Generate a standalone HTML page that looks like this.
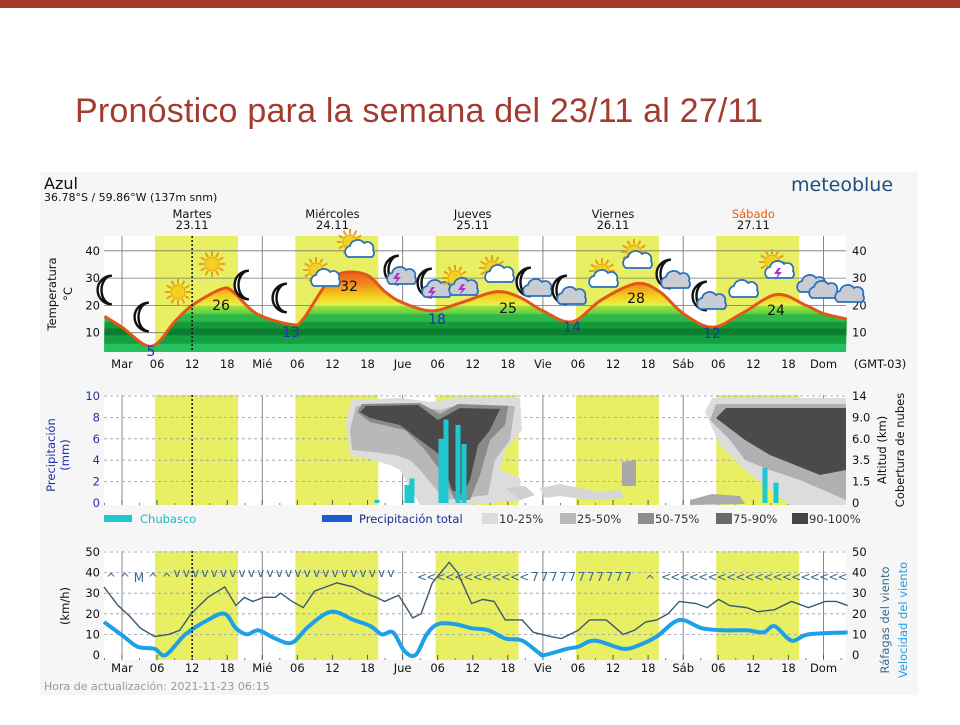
<!DOCTYPE html>
<html><head><meta charset="utf-8"><style>
body{margin:0;width:960px;height:720px;background:#fff;overflow:hidden;font-family:"Liberation Sans","DejaVu Sans",sans-serif}
</style></head><body>
<svg id="s" width="960" height="720" xmlns="http://www.w3.org/2000/svg" font-family="'DejaVu Sans','Liberation Sans',sans-serif">
<rect x="0" y="0" width="960" height="8" fill="#a53a2c"/>
<text x="75" y="122" font-family="'Liberation Sans',sans-serif" font-size="34" textLength="688" fill="#a33c2e">Pronóstico para la semana del 23/11 al 27/11</text>
<rect x="40" y="172" width="878" height="523" fill="#f6f6f6"/>
<text x="44" y="189" font-size="16" fill="#111">Azul</text>
<text x="44" y="201" font-size="11" fill="#111">36.78°S / 59.86°W (137m snm)</text>
<text x="791" y="191" font-size="19" fill="#1d4d7d">meteoblue</text>
<g id="g"></g>
</svg>
<script>
const NS="http://www.w3.org/2000/svg",G=document.getElementById('g');
function el(t,a,txt){const e=document.createElementNS(NS,t);for(const k in a)e.setAttribute(k,a[k]);if(txt!=null)e.textContent=txt;G.appendChild(e);return e;}
const X0=122,DAY=140.3,L=104,R=846;
const hx=h=>X0+h*DAY/24;
function smooth(pts){let d="M"+pts[0][0]+","+pts[0][1];for(let i=0;i<pts.length-1;i++){const p0=pts[Math.max(0,i-1)],p1=pts[i],p2=pts[i+1],p3=pts[Math.min(pts.length-1,i+2)];d+=` C${p1[0]+(p2[0]-p0[0])/6},${p1[1]+(p2[1]-p0[1])/6} ${p2[0]-(p3[0]-p1[0])/6},${p2[1]-(p3[1]-p1[1])/6} ${p2[0]},${p2[1]}`;}return d;}
const xl=["Mar","06","12","18","Mié","06","12","18","Jue","06","12","18","Vie","06","12","18","Sáb","06","12","18","Dom"];
function panel(top,bot){
 el('rect',{x:L,y:top,width:R-L,height:bot-top,fill:'#fff'});
 for(let d=0;d<5;d++){el('rect',{x:hx(d*24)+33,y:top,width:83,height:bot-top,fill:'#e8ef62'});}
 for(let i=0;i<=20;i++){const x=hx(i*6);if(i%4==0)el('line',{x1:x,y1:top,x2:x,y2:bot,stroke:'#888','stroke-width':1});
  el('line',{x1:x,y1:bot,x2:x,y2:bot-5,stroke:'#555'});}
 for(let h=-3;h<=124;h+=3){el('line',{x1:hx(h),y1:bot,x2:hx(h),y2:bot-2,stroke:'#777'});}
}
function xlabels(y){xl.forEach((t,i)=>el('text',{x:hx(i*6),y:y,'font-size':11.5,'text-anchor':'middle',fill:'#111'},t));}
// ---------- panel 1
const T1=236,B1=352,ty=t=>360-t*2.73;
panel(T1,B1);
[10,20,30,40].forEach(t=>{el('line',{x1:L,y1:ty(t),x2:R,y2:ty(t),stroke:'#777','stroke-width':0.8});
 el('text',{x:100,y:ty(t)+4,'font-size':11.5,'text-anchor':'end',fill:'#111'},t);
 el('text',{x:852,y:ty(t)+4,'font-size':11.5,fill:'#111'},t);});
const tp=[[-3,16],[0,12],[5,5],[9,14],[12,20],[17,26],[19,25],[23,17],[29,13],[31,15],[35,28],[38,32],[42,31],[45,25],[48,21],[53,18],[58,21],[64,25],[68,23],[72,18],[77,14],[82,22],[88,28],[92,25],[96,17],[101,12],[106,17],[112,24],[117,20],[120,17],[124,15]].map(p=>[hx(p[0]),ty(p[1])]);
const cd=smooth(tp);
const defs=el('defs',{});
defs.innerHTML=`<linearGradient id="tg" x1="0" y1="${ty(34)}" x2="0" y2="${ty(3)}" gradientUnits="userSpaceOnUse">
<stop offset="0" stop-color="#e8501a"/><stop offset="0.2" stop-color="#f08a1a"/><stop offset="0.35" stop-color="#f4d21e"/><stop offset="0.45" stop-color="#e8f04a"/>
<stop offset="0.46" stop-color="#9fe040"/><stop offset="0.55" stop-color="#5cd040"/><stop offset="0.56" stop-color="#2fb84a"/><stop offset="0.64" stop-color="#2fb84a"/>
<stop offset="0.65" stop-color="#139a3a"/><stop offset="0.72" stop-color="#139a3a"/><stop offset="0.73" stop-color="#0a7d30"/><stop offset="0.8" stop-color="#0a7d30"/>
<stop offset="0.81" stop-color="#15a040"/><stop offset="0.9" stop-color="#15a040"/><stop offset="0.91" stop-color="#25c060"/><stop offset="1" stop-color="#25c060"/></linearGradient>`;
el('path',{d:cd+` L${R},${B1} L${L},${B1} Z`,fill:'url(#tg)'});
el('path',{d:cd,fill:'none',stroke:'#e2561a','stroke-width':3});
el('line',{x1:hx(12),y1:T1,x2:hx(12),y2:B1,stroke:'#111','stroke-dasharray':'2,2','stroke-width':1.5});
[[221,310,26,'#111'],[349,291,32,'#111'],[508,313,25,'#111'],[636,303,28,'#111'],[776,315,24,'#111'],[151,356,5,'#1a3aa8'],[291,337,13,'#1a3aa8'],[437,324,18,'#1a3aa8'],[572,332,14,'#1a3aa8'],[712,338,12,'#1a3aa8']].forEach(a=>el('text',{x:a[0],y:a[1],'font-size':14,'text-anchor':'middle',fill:a[3]},a[2]));
xlabels(368);
el('text',{x:880,y:368,'font-size':11.5,'text-anchor':'middle',fill:'#111'},'(GMT-03)');
el('text',{x:0,y:0,'font-size':11.5,'text-anchor':'middle',fill:'#111',transform:'translate(56,294) rotate(-90)'},'Temperatura');
el('text',{x:0,y:0,'font-size':11.5,'text-anchor':'middle',fill:'#111',transform:'translate(72,294) rotate(-90)'},'°C');
[['Martes','23.11',0,'#111'],['Miércoles','24.11',1,'#111'],['Jueves','25.11',2,'#111'],['Viernes','26.11',3,'#111'],['Sábado','27.11',4,'#e0600f']].forEach(a=>{const x=hx(a[2]*24+12);
 el('text',{x:x,y:218,'font-size':11.5,'text-anchor':'middle',fill:a[3]},a[0]);el('text',{x:x,y:229,'font-size':11.5,'text-anchor':'middle',fill:'#111'},a[1]);});
// icons
function moon(x,y){const s=1.3;el('path',{d:`M${x+3*s},${y-11*s} A${11*s} ${11*s} 0 1 0 ${x+3*s},${y+11*s} A${8*s} ${11*s} 0 1 1 ${x+3*s},${y-11*s} Z`,fill:'#fff',stroke:'#111','stroke-width':2.4});}
function sun(x,y){for(let i=0;i<12;i++){const a=i*Math.PI/6;el('line',{x1:x+8*Math.cos(a),y1:y+8*Math.sin(a),x2:x+13*Math.cos(a),y2:y+13*Math.sin(a),stroke:'#e8a010','stroke-width':2});}el('circle',{cx:x,cy:y,r:7,fill:'#f6d020',stroke:'#e8a010','stroke-width':1});}
function cloud(x,y,g){const f=g?'#c8ccd4':'#fff';el('path',{d:`M${x-12},${y+6} a6 6 0 0 1 2,-11 a8 8 0 0 1 14,-3 a6 6 0 0 1 9,7 a5 5 0 0 1 -1,7 Z`,fill:f,stroke:'#2a70c0','stroke-width':1.8});}
function bolt(x,y){el('path',{d:`M${x},${y} l-4,6 h4 l-3,6 l7,-8 h-4 l3,-4 z`,fill:'#b030d0'});}
moon(108,290);moon(145,317);sun(178,292);sun(212,264);moon(245,285);moon(283,298);
sun(316,270);cloud(326,280);sun(350,242);cloud(360,251);
moon(395,270);cloud(402,278,1);bolt(397,273);moon(428,283);cloud(437,291,1);bolt(432,287);
sun(455,278);cloud(464,289,1);bolt(462,284);sun(492,268);cloud(500,276);
moon(527,282);cloud(538,290,1);moon(563,290);cloud(572,298,1);sun(602,271);cloud(604,281);sun(634,252);cloud(638,262);
moon(667,274);cloud(676,282,1);moon(703,296);cloud(712,303,1);cloud(744,291);sun(772,262);cloud(780,272);bolt(778,268);
cloud(812,286,1);cloud(824,292,1);cloud(850,296,1);
// ---------- panel 2
const T2=395,B2=505,py=v=>503-v*10.7;
panel(T2,B2);
const rl=['0','1.5','3.5','6.0','9.0','14'];
[0,2,4,6,8,10].forEach((v,i)=>{if(v>0)el('line',{x1:L,y1:py(v),x2:R,y2:py(v),stroke:'#99a','stroke-dasharray':'3,3','stroke-width':0.8});
 el('text',{x:100,y:py(v)+4,'font-size':11.5,'text-anchor':'end',fill:'#2030a8'},v);
 el('text',{x:852,y:py(v)+4,'font-size':11.5,fill:'#111'},rl[i]);});
el('path',{d:'M346,420 L352,400 L400,398 L432,402 L455,398 L520,398 L522,430 L505,450 L500,470 L520,478 L522,500 L470,505 L420,505 L400,470 L390,465 L372,460 L350,455 Z',fill:'#dcdcdc'});
el('path',{d:'M350,430 L356,406 L400,404 L440,410 L462,404 L515,406 L510,440 L495,460 L488,495 L445,500 L420,470 L410,460 L395,455 L372,452 L352,450 Z',fill:'#b8b8b8'});
el('path',{d:'M357,412 L362,404 L420,403 L440,414 L458,404 L508,406 L505,425 L490,440 L480,475 L470,500 L455,500 L440,470 L425,450 L405,430 L370,422 Z',fill:'#8a8a8a'});
el('path',{d:'M360,412 L366,406 L418,405 L438,420 L460,408 L500,409 L490,430 L478,445 L470,480 L462,495 L452,490 L440,455 L420,440 L400,425 L370,418 Z',fill:'#4a4a4a'});
el('path',{d:'M705,412 L712,398 L846,398 L846,505 L790,505 L770,490 L745,470 L720,445 Z',fill:'#dcdcdc'});
el('path',{d:'M710,420 L716,404 L846,404 L846,500 L800,480 L770,470 L745,460 L730,440 Z',fill:'#b0b0b0'});
el('path',{d:'M716,418 L726,408 L846,408 L846,470 L820,475 L795,465 L770,455 L745,440 Z',fill:'#4a4a4a'});
el('path',{d:'M690,500 L712,494 L740,496 L745,504 L690,505 Z',fill:'#aaa'});
el('path',{d:'M622,462 L636,460 L636,486 L622,486 Z',fill:'#a8a8a8'});
el('path',{d:'M540,488 L560,484 L600,492 L620,490 L625,498 L590,500 L560,496 L545,498 Z',fill:'#d6d6d6'});
el('path',{d:'M505,488 L525,486 L535,495 L520,500 Z',fill:'#cfcfcf'});
[[377,0.3],[407,1.7],[412,2.3],[441,6],[446,7.8],[458,7.3],[464,5.5],[765,3.3],[776,1.9]].forEach(b=>el('rect',{x:b[0]-2.5,y:py(b[1]),width:5,height:b[1]*10.7,fill:'#1fc8d0'}));
el('line',{x1:hx(12),y1:T2,x2:hx(12),y2:B2,stroke:'#111','stroke-dasharray':'2,2','stroke-width':1.5});
el('text',{x:0,y:0,'font-size':11.5,'text-anchor':'middle',fill:'#2030a8',transform:'translate(55,455) rotate(-90)'},'Precipitación');
el('text',{x:0,y:0,'font-size':11.5,'text-anchor':'middle',fill:'#2030a8',transform:'translate(69,455) rotate(-90)'},'(mm)');
el('text',{x:0,y:0,'font-size':11.5,'text-anchor':'middle',fill:'#111',transform:'translate(886,450) rotate(-90)'},'Altitud (km)');
el('text',{x:0,y:0,'font-size':11.5,'text-anchor':'middle',fill:'#111',transform:'translate(904,450) rotate(-90)'},'Cobertura de nubes');
el('rect',{x:104,y:515,width:28,height:7,fill:'#1fc8d0'});el('text',{x:140,y:523,'font-size':11.5,fill:'#1fb8c8'},'Chubasco');
el('rect',{x:322,y:515,width:30,height:7,fill:'#1f5ad0'});el('text',{x:359,y:523,'font-size':11.5,fill:'#1a2a90'},'Precipitación total');
[['#dcdcdc','10-25%',482],['#b8b8b8','25-50%',560],['#8e8e8e','50-75%',638],['#6a6a6a','75-90%',716],['#444','90-100%',792]].forEach(a=>{el('rect',{x:a[2],y:513,width:16,height:11,fill:a[0]});el('text',{x:a[2]+17,y:523,'font-size':11.5,fill:'#333'},a[1]);});
// ---------- panel 3
const T3=551,B3=660,wy=v=>655-v*2.06;
panel(T3,B3);
[0,10,20,30,40,50].forEach(v=>{if(v>0)el('line',{x1:L,y1:wy(v),x2:R,y2:wy(v),stroke:'#99a','stroke-dasharray':'3,3','stroke-width':0.8});
 el('text',{x:100,y:wy(v)+4,'font-size':11.5,'text-anchor':'end',fill:'#111'},v);
 el('text',{x:852,y:wy(v)+4,'font-size':11.5,fill:'#111'},v);});
const zx=z=>122+(z-147)*0.5612;
const gust=[[115,33],[140,24],[160,19],[180,13],[205,9],[230,10],[250,12],[270,20],[300,28],[330,33],[350,24],[365,28],[380,26],[400,28],[420,28],[430,30],[450,26],[470,23],[490,31],[510,33],[530,35],[560,33],[580,30],[600,28],[615,26],[640,29],[665,18],[680,20],[700,35],[730,45],[745,40],[770,25],[790,27],[810,26],[830,17],[860,17],[880,11],[910,9],[930,8],[960,12],[980,17],[1010,17],[1040,10],[1060,12],[1080,16],[1100,17],[1120,20],[1140,26],[1170,25],[1190,23],[1210,27],[1230,24],[1260,23],[1280,21],[1310,22],[1340,26],[1370,23],[1400,26],[1420,26],[1440,24]];
const spd=[[115,16],[150,9],[175,4],[205,3],[225,0],[260,10],[300,17],[330,20],[350,13],[370,10],[390,12],[420,8],[450,6],[480,14],[520,21],[560,17],[590,14],[610,10],[630,11],[650,2],[670,0],[690,10],[710,15],[740,15],[770,13],[800,12],[830,8],[860,7],[890,1],[900,0],[940,3],[960,4],[990,7],[1040,3],[1070,5],[1100,9],[1140,17],[1180,13],[1220,12],[1260,12],[1290,11],[1310,14],[1340,7],[1370,10],[1440,11]];
el('path',{d:smooth(spd.map(p=>[zx(p[0]),wy(p[1])])),fill:'none',stroke:'#1ea0e8','stroke-width':4});
el('path',{d:'M'+gust.map(p=>zx(p[0])+','+wy(p[1])).join(' L'),fill:'none',stroke:'#3a5a70','stroke-width':1.4});
el('line',{x1:hx(12),y1:T3,x2:hx(12),y2:B3,stroke:'#111','stroke-dasharray':'2,2','stroke-width':1.5});
function arrows(x1,x2,ch,y){for(let x=x1;x<=x2;x+=9.3)el('text',{x:x,y:y,'font-size':12,'text-anchor':'middle',fill:'#3a6a8a'},ch);}
el('text',{x:106,y:582,'font-size':12,fill:'#3a6a8a'},'^ ^ M ^ ^');
arrows(177,400,'v',577);arrows(422,530,'<',581);arrows(535,630,'7',581);
el('text',{x:650,y:584,'font-size':12,fill:'#3a6a8a','text-anchor':'middle'},'^');
arrows(666,846,'<',581);
xlabels(672);
el('text',{x:0,y:0,'font-size':11.5,'text-anchor':'middle',fill:'#111',transform:'translate(69,606) rotate(-90)'},'(km/h)');
el('text',{x:0,y:0,'font-size':11.5,'text-anchor':'middle',fill:'#3a6a8a',transform:'translate(889,620) rotate(-90)'},'Ráfagas del viento');
el('text',{x:0,y:0,'font-size':11.5,'text-anchor':'middle',fill:'#1ea0e8',transform:'translate(907,620) rotate(-90)'},'Velocidad del viento');
el('text',{x:44,y:690,'font-size':11,fill:'#999'},'Hora de actualización: 2021-11-23 06:15');
</script>
</body></html>
